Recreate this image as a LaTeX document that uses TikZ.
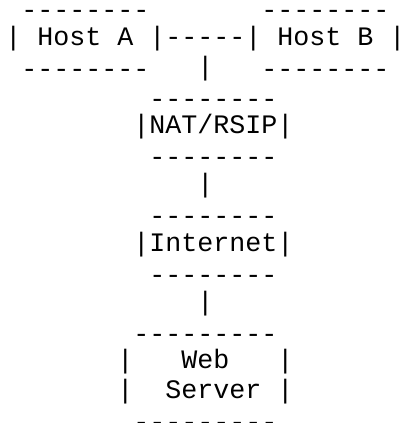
\documentclass[tikz,border=0pt]{standalone}
\usepackage{fontspec}
\setmonofont{Liberation Mono}
\tikzset{
  ascii/.style={font=\fontsize{20}{22}\selectfont\ttfamily,
    inner sep=0pt, outer sep=0pt, anchor=base west},
  rule/.style={ascii, yshift=-2pt}
}
\begin{document}
\begin{tikzpicture}[x=12pt,y=-22.03pt]
      \useasboundingbox (-4pt,12.2pt) rectangle (296.75pt,-305.05pt);
      % hosts on the private side
      \draw
        (1,0) node[rule] (hostAtop){--------}
        (0,1) node[ascii] (hostA){| Host A |}
        (1,2) node[rule] (hostAbot){--------}
        (16,0) node[rule] (hostBtop){--------}
        (15,1) node[ascii] (hostB){| Host B |}
        (16,2) node[rule] (hostBbot){--------};
      % NAT box, Internet, server
      \draw
        (9,3) node[rule] (nattop){--------}
        (8,4) node[ascii] (nat){|NAT/RSIP|}
        (9,5) node[rule] (natbot){--------}
        (9,7) node[rule] (nettop){--------}
        (8,8) node[ascii] (net){|Internet|}
        (9,9) node[rule] (netbot){--------}
        (8,11) node[rule] (webtop){---------}
        (7,12) node[ascii] (web){|\ \ \ Web\ \ \ |}
        (7,13) node[ascii] (server){|\ \ Server\ |}
        (8,14) node[rule] (webbot){---------};
      % links
      \begin{scope}[every node/.style={ascii}]
        \draw (10,1) node (hostlink){-----};
        \draw (12,2) node (natlink){|};
        \draw (12,6) node (netlink){|};
        \draw (12,10) node (weblink){|};
      \end{scope}
    \end{tikzpicture}
\end{document}
